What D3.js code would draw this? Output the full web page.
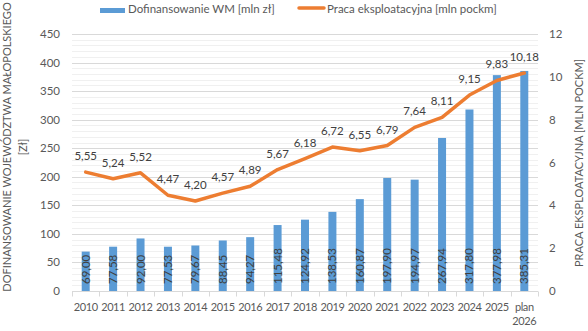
<!DOCTYPE html>
<html>
<head>
<meta charset="utf-8">
<script src="https://cdn.jsdelivr.net/npm/d3@7"></script>
<style>
  body { margin: 0; background: #fff; }
  svg { display: block; font-family: Lato, "Open Sans", sans-serif; }
</style>
</head>
<body>
<div id="app"></div>
<script>
const categories = ["2010", "2011", "2012", "2013", "2014", "2015", "2016", "2017", "2018",
  "2019", "2020", "2021", "2022", "2023", "2024", "2025", "plan 2026"];
const funding = [69.00, 77.58, 92.00, 77.53, 79.67, 88.45, 94.27, 115.48, 124.92,
  138.53, 160.87, 197.90, 194.97, 267.94, 317.80, 377.98, 385.31];
const work = [5.55, 5.24, 5.52, 4.47, 4.20, 4.57, 4.89, 5.67, 6.18,
  6.72, 6.55, 6.79, 7.64, 8.11, 9.15, 9.83, 10.18];
const leftTicks = [0, 50, 100, 150, 200, 250, 300, 350, 400, 450];
const rightTicks = [0, 2, 4, 6, 8, 10, 12];

const W = 588, H = 331;
const blue = "#5B9BD5", orange = "#ED7D31", txt = "#595959", lbl = "#404040";
const fmt = (v) => d3.format(".2f")(v).replace(".", ",");

const svg = d3.select("#app").append("svg").attr("width", W).attr("height", H);

const x = d3.scaleBand().domain(categories).range([72, 538]);
const yL = d3.scaleLinear().domain([0, 450]).range([291, 34]);
const yR = d3.scaleLinear().domain([0, 12]).range([291, 34]);

// minor + major gridlines
const minor = d3.range(0, 451, 10).filter((v) => v % 50 !== 0);
svg.append("g").selectAll("line").data(minor).enter().append("line")
  .attr("x1", 72).attr("x2", 538)
  .attr("y1", (d) => Math.round(yL(d)) + 0.5).attr("y2", (d) => Math.round(yL(d)) + 0.5)
  .attr("stroke", "#f0f0f0");
svg.append("g").selectAll("line").data(leftTicks.slice(1)).enter().append("line")
  .attr("x1", 72).attr("x2", 538)
  .attr("y1", (d) => Math.round(yL(d)) + 0.5).attr("y2", (d) => Math.round(yL(d)) + 0.5)
  .attr("stroke", "#d9d9d9");

// x axis
const xAxis = svg.append("g").attr("transform", "translate(0," + 291.5 + ")");
xAxis.append("line").attr("x1", 72).attr("x2", 538).attr("stroke", "#d9d9d9");
xAxis.selectAll("line.tk").data(categories.concat(["end"])).enter().append("line")
  .attr("class", "tk")
  .attr("x1", (d, i) => Math.round(72 + i * x.step()) + 0.5)
  .attr("x2", (d, i) => Math.round(72 + i * x.step()) + 0.5)
  .attr("y1", 0).attr("y2", 5).attr("stroke", "#d9d9d9");
categories.forEach((c) => {
  const t = svg.append("text").attr("text-anchor", "middle").attr("font-size", 11)
    .attr("letter-spacing", -0.4).attr("fill", txt);
  c.split(" ").forEach((part, j) => {
    t.append("tspan").attr("x", x(c) + x.bandwidth() / 2).attr("y", 311 + j * 14).text(part);
  });
});

// y tick labels
svg.append("g").selectAll("text").data(leftTicks).enter().append("text")
  .attr("x", 60).attr("y", (d) => yL(d) + 4).attr("text-anchor", "end")
  .attr("font-size", 11.5).attr("fill", txt).text((d) => d);
svg.append("g").selectAll("text").data(rightTicks).enter().append("text")
  .attr("x", 549).attr("y", (d) => yR(d) + 4).attr("text-anchor", "start")
  .attr("font-size", 11.5).attr("fill", txt).text((d) => d);

// bars
const bw = 8;
svg.append("g").selectAll("rect").data(funding).enter().append("rect")
  .attr("x", (d, i) => x(categories[i]) + x.bandwidth() / 2 - bw / 2)
  .attr("y", (d) => yL(d)).attr("width", bw)
  .attr("height", (d) => yL(0) - yL(d)).attr("fill", blue);

svg.append("g").selectAll("text").data(funding).enter().append("text")
  .attr("transform", (d, i) => "translate(" + (x(categories[i]) + x.bandwidth() / 2 + 4) + ",284) rotate(-90)")
  .attr("font-size", 11.5).attr("fill", lbl).text((d) => fmt(d));

// line
const line = d3.line()
  .x((d, i) => x(categories[i]) + x.bandwidth() / 2)
  .y((d) => yR(d));
svg.append("path").datum(work).attr("d", line).attr("fill", "none")
  .attr("stroke", orange).attr("stroke-width", 3.5).attr("stroke-linejoin", "round")
  .attr("stroke-linecap", "round");
svg.append("g").selectAll("text").data(work).enter().append("text")
  .attr("x", (d, i) => x(categories[i]) + x.bandwidth() / 2)
  .attr("y", (d) => yR(d) - 12).attr("text-anchor", "middle")
  .attr("font-size", 11.5).attr("fill", lbl).text((d) => fmt(d));

// axis titles
const lt = svg.append("text").attr("transform", "translate(11,147) rotate(-90)")
  .attr("text-anchor", "middle").attr("font-size", 11).attr("fill", txt);
lt.append("tspan").attr("x", 0).attr("y", 0).text("DOFINANSOWANIE WOJEWÓDZTWA MAŁOPOLSKIEGO");
lt.append("tspan").attr("x", 0).attr("y", 16).text("[Zł]");
svg.append("text").attr("transform", "translate(583,163) rotate(-90)")
  .attr("text-anchor", "middle").attr("font-size", 11).attr("fill", txt)
  .text("PRACA EKSPLOATACYJNA [MLN POCKM]");

// legend
const lg = svg.append("g");
lg.append("rect").attr("x", 100).attr("y", 8).attr("width", 25).attr("height", 5).attr("fill", blue);
lg.append("text").attr("x", 128).attr("y", 12.5).attr("font-size", 11.5).attr("fill", txt)
  .text("Dofinansowanie WM [mln zł]");
lg.append("line").attr("x1", 299).attr("x2", 324).attr("y1", 8).attr("y2", 8)
  .attr("stroke", orange).attr("stroke-width", 3.5).attr("stroke-linecap", "round");
lg.append("text").attr("x", 327).attr("y", 12.5).attr("font-size", 11.5).attr("fill", txt)
  .text("Praca eksploatacyjna [mln pockm]");
</script>
</body>
</html>
